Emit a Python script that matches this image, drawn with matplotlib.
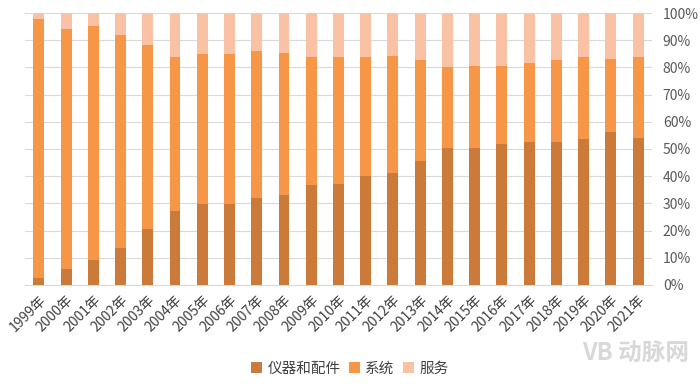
import numpy as np
import matplotlib; matplotlib.use("Agg")
import matplotlib.pyplot as plt
from matplotlib.ticker import PercentFormatter

plt.rcParams['font.family'] = ['Noto Sans CJK SC', 'DejaVu Sans']

years = [f"{y}年" for y in range(1999, 2022)]
# shares (%)
instruments = [2.7, 6.0, 9.3, 13.7, 20.4, 27.0, 29.6, 29.9, 31.8, 33.2, 36.9, 37.3,
               39.9, 41.3, 45.4, 50.2, 50.2, 51.7, 52.4, 52.4, 53.5, 56.4, 54.2]
systems_top = [97.9, 94.2, 95.1, 92.1, 88.1, 83.7, 84.8, 85.1, 85.9, 85.5, 83.7, 84.0,
               84.0, 84.4, 82.6, 80.0, 80.4, 80.7, 81.5, 82.9, 83.7, 83.3, 84.0]
systems = [t - i for t, i in zip(systems_top, instruments)]
services = [100 - t for t in systems_top]

c_dark, c_mid, c_light = "#CB7A3A", "#F79646", "#F9C2A4"

fig = plt.figure(figsize=(7, 3.86), dpi=100)
ax = fig.add_axes([0.036, 0.262, 0.895, 0.704])
x = np.arange(len(years))
w = 0.4
ax.bar(x, instruments, w, color=c_dark, label="仪器和配件", zorder=3)
ax.bar(x, systems, w, bottom=instruments, color=c_mid, label="系统", zorder=3)
ax.bar(x, services, w, bottom=systems_top, color=c_light, label="服务", zorder=3)

ax.set_xlim(-0.5, len(years) - 0.5)
ax.set_ylim(0, 100)
ax.set_yticks(np.arange(0, 101, 10))
ax.yaxis.set_major_formatter(PercentFormatter(decimals=0))
ax.yaxis.tick_right()
ax.tick_params(axis="y", length=0, labelsize=10, labelcolor="#595959", pad=8)
ax.set_xticks(x)
ax.set_xticklabels(years, rotation=45, ha="right", rotation_mode="anchor",
                   fontsize=10, color="#404040")
ax.tick_params(axis="x", length=0, pad=6)
ax.grid(axis="y", color="#D9D9D9", lw=0.8, zorder=0)
for s in ["top", "left", "right"]:
    ax.spines[s].set_visible(False)
ax.spines["bottom"].set_color("#D9D9D9")

fig.legend(loc="center", bbox_to_anchor=(0.5, 0.045), ncol=3, frameon=False,
           fontsize=10.5, handlelength=0.7, handleheight=0.7, handletextpad=0.4,
           columnspacing=0.6, labelcolor="#404040")

# watermark
fig.text(0.985, 0.085, "VB 动脉网", ha="right", va="center", fontsize=17,
         color="#D8D8D8", fontweight="bold")

fig.savefig("out.png", dpi=100)
